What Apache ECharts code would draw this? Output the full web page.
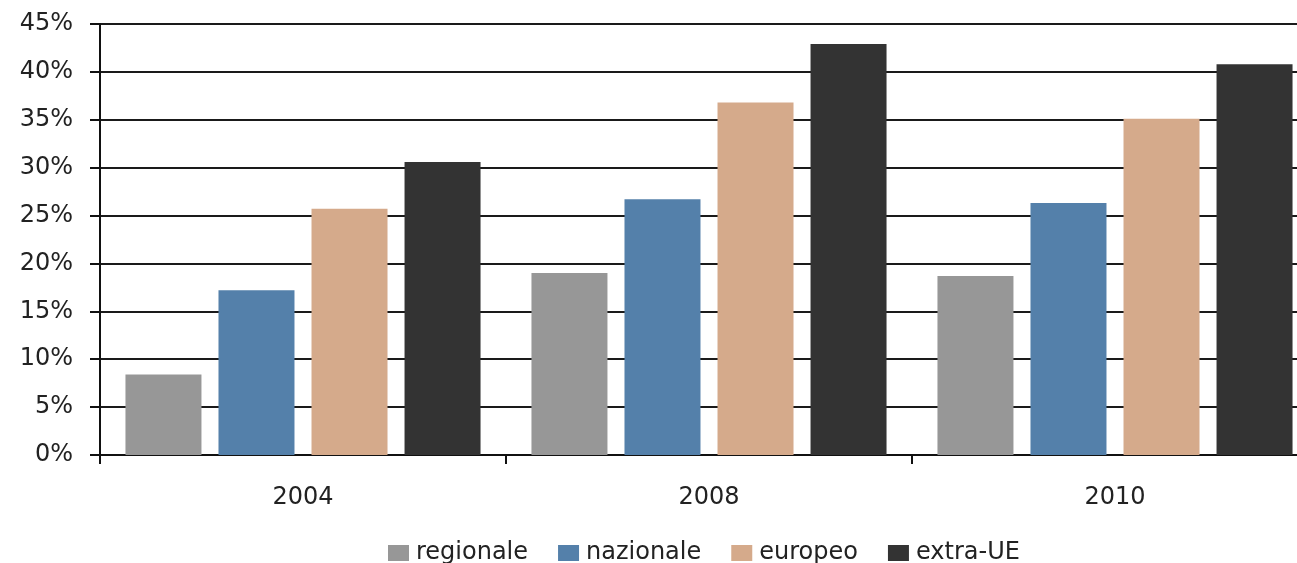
<!DOCTYPE html>
<html>
<head>
<meta charset="utf-8">
<script src="https://cdn.jsdelivr.net/npm/echarts@6/dist/echarts.min.js"></script>
<style>
  html, body { margin: 0; padding: 0; background: #fff; overflow: hidden; }
  /* the canvas is a bit wider than the window: the plot runs on past its right edge */
  #chart { width: 1320px; height: 563px; }
</style>
</head>
<body>
<div id="chart"></div>
<script>
// Share of firms by market reach, per survey year (%)
const years = ['2004', '2008', '2010'];
const regionale = [8.4, 19.0, 18.7];
const nazionale = [17.2, 26.7, 26.3];
const europeo = [25.7, 36.8, 35.1];
const extraUE = [30.6, 42.9, 40.8];

const seriesNames = ['regionale', 'nazionale', 'europeo', 'extra-UE'];
const seriesColors = ['#979797', '#5480aa', '#d5aa8b', '#333333'];
const seriesData = [regionale, nazionale, europeo, extraUE];

const chart = echarts.init(document.getElementById('chart'));
chart.setOption({
  animation: false,
  textStyle: { fontFamily: 'DejaVu Sans, sans-serif' },
  grid: { left: 100, right: 2, top: 24, bottom: 108, containLabel: false },
  legend: {
    left: 383,
    top: 536,
    itemWidth: 21,
    itemHeight: 16,
    itemGap: 30,
    icon: 'rect',
    textStyle: { fontSize: 24, color: '#222', padding: [0, 0, 0, 2] },
    data: seriesNames
  },
  xAxis: {
    type: 'category',
    data: years,
    axisLine: { lineStyle: { color: '#111', width: 2 } },
    axisTick: { show: true, length: 9, lineStyle: { color: '#111', width: 2 } },
    axisLabel: { fontSize: 24, color: '#222', margin: 31 }
  },
  yAxis: {
    type: 'value',
    min: 0,
    max: 45,
    interval: 5,
    axisLine: { show: true, lineStyle: { color: '#111', width: 2 } },
    axisTick: { show: true, length: 10, lineStyle: { color: '#111', width: 2 } },
    splitLine: { lineStyle: { color: '#1a1a1a', width: 2 } },
    axisLabel: { fontSize: 24, color: '#222', margin: 27, formatter: '{value}%' }
  },
  series: seriesNames.map((name, i) => ({
    name: name,
    type: 'bar',
    data: seriesData[i],
    barWidth: 76,
    barGap: '22.4%',
    itemStyle: { color: seriesColors[i] }
  }))
});
</script>
</body>
</html>
